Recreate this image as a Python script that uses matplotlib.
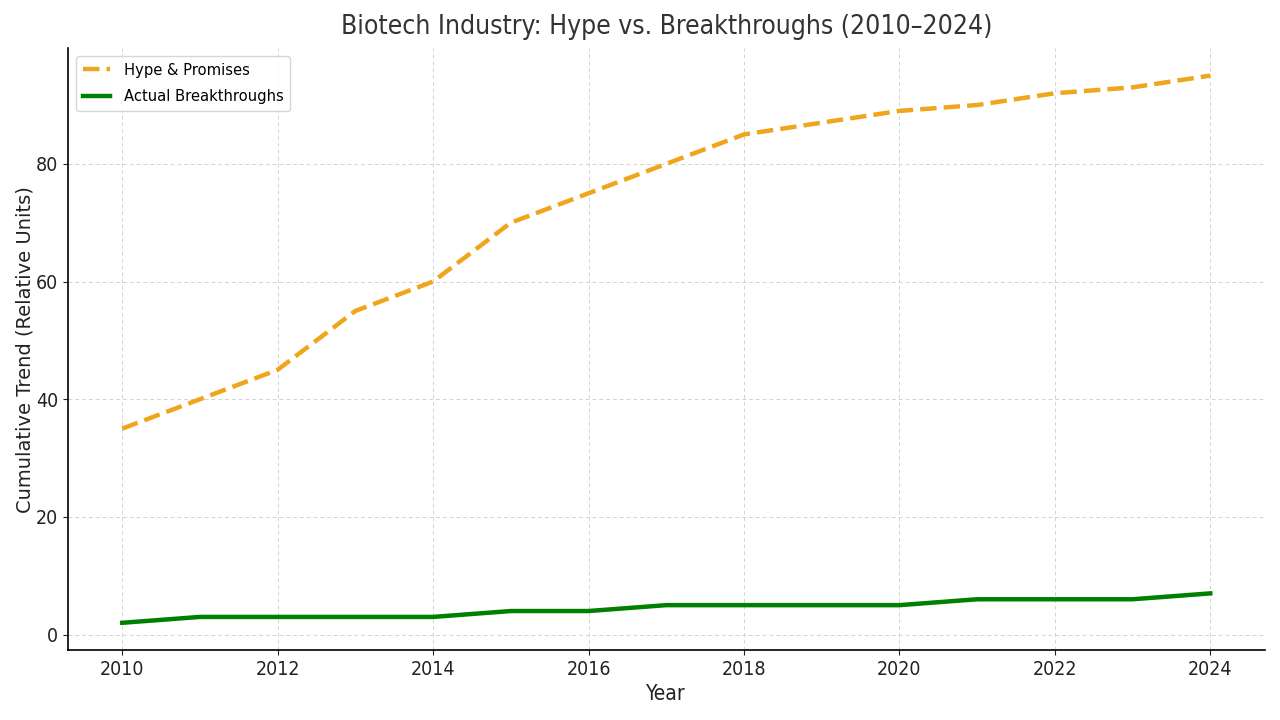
import matplotlib
matplotlib.use("Agg")
import matplotlib.pyplot as plt
from matplotlib import font_manager

years = [2010, 2011, 2012, 2013, 2014, 2015, 2016, 2017, 2018, 2019, 2020, 2021, 2022, 2023, 2024]
hype = [35, 40, 45, 55, 60, 70, 75, 80, 85, 87, 89, 90, 92, 93, 95]
actual = [2, 3, 3, 3, 3, 4, 4, 5, 5, 5, 5, 6, 6, 6, 7]

names = {f.name for f in font_manager.fontManager.ttflist}
fam = 'DejaVu Sans Condensed' if 'DejaVu Sans Condensed' in names else 'DejaVu Sans'
plt.rcParams['font.family'] = [fam, 'DejaVu Sans']
plt.rcParams['font.stretch'] = 'condensed'

fig = plt.figure(figsize=(12.8, 7.2), dpi=100)
ax = fig.add_axes([0.053, 0.097, 0.935, 0.836])

ax.plot(years, hype, linestyle='--', color='#EFA51C', linewidth=3.2, label='Hype & Promises')
ax.plot(years, actual, linestyle='-', color='green', linewidth=3.2, label='Actual Breakthroughs')

ax.set_title('Biotech Industry: Hype vs. Breakthroughs (2010–2024)', fontsize=19, color='#333333', pad=10)
ax.set_xlabel('Year', fontsize=15, color='#222222')
ax.set_ylabel('Cumulative Trend (Relative Units)', fontsize=14, color='#222222',
              family='DejaVu Sans', fontstretch='normal', labelpad=1)
ax.set_xticks(range(2010, 2025, 2))
ax.tick_params(labelsize=14, colors='#222222')
ax.grid(True, linestyle=(0, (4, 3)), color='#d3d3d3', linewidth=0.7)
for s in ['top', 'right']:
    ax.spines[s].set_visible(False)
ax.spines['left'].set_linewidth(1.2)
ax.spines['bottom'].set_linewidth(1.2)
ax.legend(loc='upper left', fontsize=11.8, handlelength=1.7, labelspacing=0.7)

fig.savefig('out.png', dpi=100)
